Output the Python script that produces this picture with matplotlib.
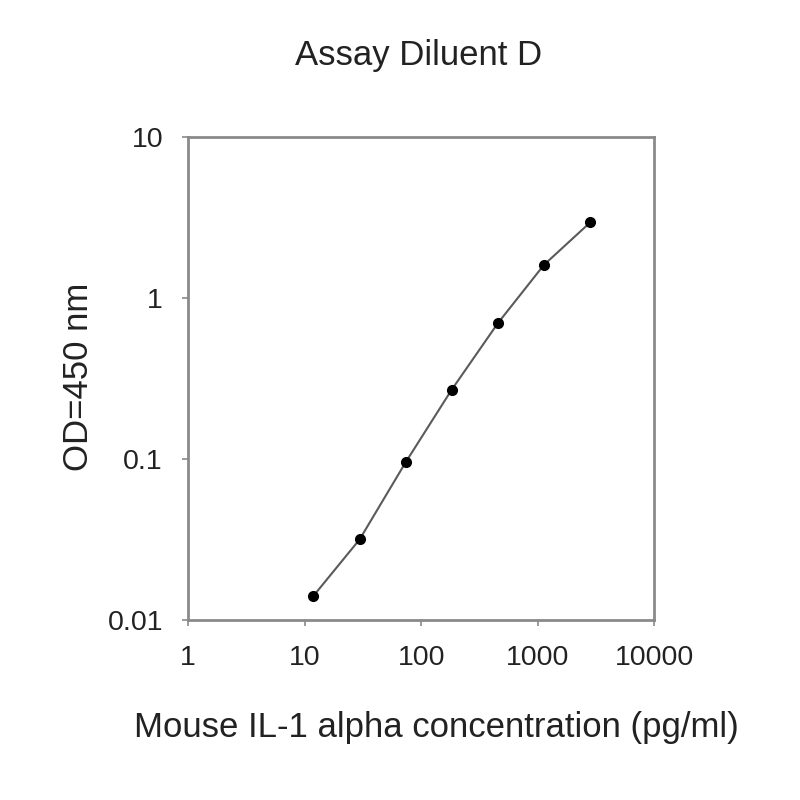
from matplotlib import pyplot as plt
import numpy as np

plt.rcParams['font.family'] = ['Liberation Sans', 'DejaVu Sans']

# Mouse IL-1 alpha standard curve
concentration = [11.8, 29.7, 73.7, 182, 455, 1127, 2813]
od_450 = [0.0140, 0.0317, 0.0955, 0.268, 0.697, 1.60, 2.94]
x_ticks = [1, 10, 100, 1000, 10000]
x_tick_labels = ['1', '10', '100', '1000', '10000']
y_ticks = [0.01, 0.1, 1, 10]
y_tick_labels = ['0.01', '0.1', '1', '10']

frame_color = '#8a8a8a'

fig = plt.figure(figsize=(8, 8), dpi=100)
ax = fig.add_axes([0.235, 0.225, 0.583, 0.604])

ax.plot(np.array(concentration), np.array(od_450), '-', color='#5a5a5a', linewidth=1.5)
ax.plot(np.array(concentration), np.array(od_450), 'o', color='black', markersize=7)

ax.set_xscale('log')
ax.set_yscale('log')
ax.set_xlim(1, 10000)
ax.set_ylim(0.01, 10)
ax.set_xticks(x_ticks)
ax.set_xticklabels(x_tick_labels)
ax.set_yticks(y_ticks)
ax.set_yticklabels(y_tick_labels)
ax.minorticks_off()
ax.tick_params(axis='both', direction='out', length=4, width=1.2,
               colors=frame_color, labelcolor='#222222', labelsize=20.5)
ax.tick_params(axis='x', pad=14)
ax.tick_params(axis='y', pad=14)

for spine in ax.spines.values():
    spine.set_color(frame_color)
    spine.set_linewidth(2)

fig.text(0.523, 0.931, 'Assay Diluent D', ha='center', va='center', fontsize=25, color='#222222')
fig.text(0.546, 0.091, 'Mouse IL-1 alpha concentration (pg/ml)', ha='center', va='center',
         fontsize=25, color='#222222')
fig.text(0.0975, 0.529, 'OD=450 nm', ha='center', va='center', rotation=90, fontsize=25,
         color='#222222')

plt.savefig('out.png', dpi=100)
plt.close(fig)
